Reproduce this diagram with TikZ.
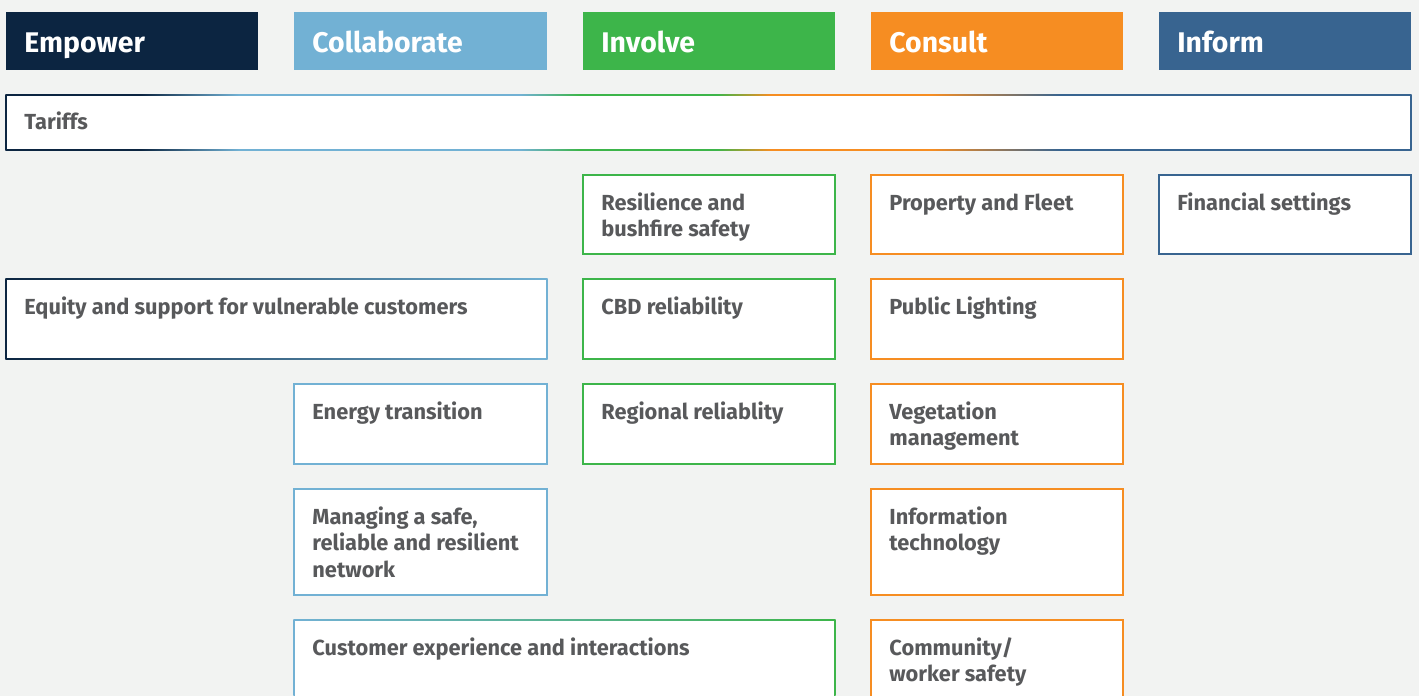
\documentclass[tikz,border=0pt]{standalone}
\usepackage{fontspec}
\setmainfont{Fira Sans}
\usetikzlibrary{fit}

\definecolor{pagebg}{HTML}{F2F3F2}
\definecolor{navyc}{HTML}{0C2541}
\definecolor{lbluec}{HTML}{72B1D4}
\definecolor{greenc}{HTML}{3DB54A}
\definecolor{orangec}{HTML}{F68D22}
\definecolor{informc}{HTML}{386490}
\definecolor{textc}{HTML}{58595B}

% border colour running through all five levels (left to right)
\pgfdeclarehorizontalshading{tariffline}{100bp}{%
  color(0bp)=(navyc); color(29.8bp)=(navyc);
  color(33.3bp)=(lbluec); color(43.3bp)=(lbluec);
  color(45.4bp)=(greenc); color(50.3bp)=(greenc);
  color(52.2bp)=(orangec); color(57.9bp)=(orangec);
  color(62.5bp)=(informc); color(100bp)=(informc)}

\tikzset{
  x=0.5pt, y=-0.5pt,
  headbox/.style={inner sep=0pt, outer sep=0pt, fill=#1, draw=none},
  topicbox/.style={inner sep=0pt, outer sep=0pt, fill=white, draw=#1, line width=0.65pt},
  shadebox/.style={inner sep=0pt, outer sep=0pt, draw=none},
  headtext/.style={inner sep=0pt, anchor=base west, text=white,
    font=\fontsize{14.2}{16}\selectfont\bfseries},
  % the base anchor of a multi-line label sits on its last line
  bodytext/.style={inner sep=0pt, anchor=base west, text=textc, align=left,
    font=\fontsize{10.9}{13.25}\selectfont\bfseries},
}

\begin{document}
\begin{tikzpicture}
\useasboundingbox (0,0) rectangle (1419,696);
\clip (0,0) rectangle (1419,696);
\fill[pagebg] (0,0) rectangle (1419,696);

% level headers
\node[headbox=navyc,   fit={(6,12) (258,70)}]    (empower) {};
\node[headbox=lbluec,  fit={(294,12) (547,70)}]  (collab) {};
\node[headbox=greenc,  fit={(583,12) (835,70)}]  (involve) {};
\node[headbox=orangec, fit={(871,12) (1123,70)}] (consult) {};
\node[headbox=informc, fit={(1159,12) (1411,70)}] (inform) {};
\node[headtext] (empower-t) at ([shift={(18,40)}]empower.north west) {Empower};
\node[headtext] (collab-t)  at ([shift={(18,40)}]collab.north west)  {Collaborate};
\node[headtext] (involve-t) at ([shift={(18,40)}]involve.north west) {Involve};
\node[headtext] (consult-t) at ([shift={(18,40)}]consult.north west) {Consult};
\node[headtext] (inform-t)  at ([shift={(18,40)}]inform.north west)  {Inform};

% spanning topics with graded borders
\node[shadebox, shading=tariffline, fit={(5.4,94.4) (1411.6,150.6)}] (tariffs) {};
\fill[white] ([shift={(1.3,1.3)}]tariffs.north west) rectangle ([shift={(-1.3,-1.3)}]tariffs.south east);
\node[shadebox, left color=navyc, right color=lbluec, fit={(5.4,278.4) (547.6,359.6)}] (equity) {};
\fill[white] ([shift={(1.3,1.3)}]equity.north west) rectangle ([shift={(-1.3,-1.3)}]equity.south east);
\node[shadebox, left color=lbluec, right color=greenc, fit={(293.4,619.4) (835.6,730)}] (custexp) {};
\fill[white] ([shift={(1.3,1.3)}]custexp.north west) rectangle ([shift={(-1.3,-1.3)}]custexp.south east);

% single-level topics
\node[topicbox=greenc,   fit={(583,175) (835,254)}]   (resil) {};
\node[topicbox=orangec,  fit={(871,175) (1123,254)}]  (property) {};
\node[topicbox=informc,  fit={(1159,175) (1411,254)}] (financial) {};
\node[topicbox=greenc,   fit={(583,279) (835,359)}]   (cbd) {};
\node[topicbox=orangec,  fit={(871,279) (1123,359)}]  (lighting) {};
\node[topicbox=lbluec,   fit={(294,384) (547,464)}]   (energy) {};
\node[topicbox=greenc,   fit={(583,384) (835,464)}]   (regional) {};
\node[topicbox=orangec,  fit={(871,384) (1123,464)}]  (vegetation) {};
\node[topicbox=lbluec,   fit={(294,489) (547,595)}]   (network) {};
\node[topicbox=orangec,  fit={(871,489) (1123,595)}]  (infotech) {};
\node[topicbox=orangec,  fit={(871,620) (1123,730)}]  (community) {};

% topic labels
\node[bodytext] (tariffs-t)    at ([shift={(18.6,35.3)}]tariffs.north west)  {Tariffs};
\node[bodytext] (resil-t)      at ([shift={(18,61.5)}]resil.north west)    {Resilience and\\bushfire safety};
\node[bodytext] (property-t)   at ([shift={(18,35)}]property.north west) {Property and Fleet};
\node[bodytext] (financial-t)  at ([shift={(18,35)}]financial.north west) {Financial settings};
\node[bodytext] (equity-t)     at ([shift={(18.6,35.6)}]equity.north west) {Equity and support for vulnerable customers};
\node[bodytext] (cbd-t)        at ([shift={(18,35)}]cbd.north west)      {CBD reliability};
\node[bodytext] (lighting-t)   at ([shift={(18,35)}]lighting.north west) {Public Lighting};
\node[bodytext] (energy-t)     at ([shift={(18,35)}]energy.north west)   {Energy transition};
\node[bodytext] (regional-t)   at ([shift={(18,35)}]regional.north west) {Regional reliablity};
\node[bodytext] (vegetation-t) at ([shift={(18,61.5)}]vegetation.north west) {Vegetation\\management};
\node[bodytext] (network-t)    at ([shift={(18,88)}]network.north west)  {Managing a safe,\\reliable and resilient\\network};
\node[bodytext] (infotech-t)   at ([shift={(18,61.5)}]infotech.north west) {Information\\technology};
\node[bodytext] (custexp-t)    at ([shift={(18.6,35.6)}]custexp.north west) {Customer experience and interactions};
\node[bodytext] (community-t)  at ([shift={(18,61.5)}]community.north west) {Community/\\worker safety};
\end{tikzpicture}
\end{document}
